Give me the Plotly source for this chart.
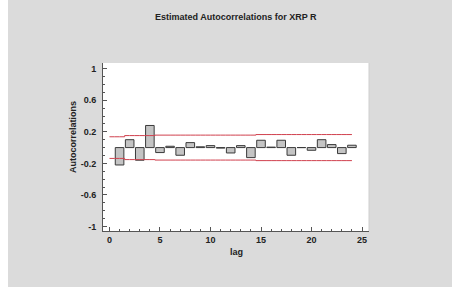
import plotly.graph_objects as go

lags = list(range(1, 25))
autocorr = [-0.22, 0.10, -0.16, 0.28, -0.063, 0.017, -0.097, 0.063, 0.01, 0.025,
            -0.006, -0.068, 0.025, -0.127, 0.093, 0.006, 0.093, -0.097, 0.0, -0.034,
            0.10, 0.038, -0.076, 0.03]
limits = [0.137, 0.152, 0.152, 0.152, 0.158, 0.158, 0.158, 0.158, 0.158, 0.158,
          0.158, 0.158, 0.158, 0.158, 0.165, 0.165, 0.165, 0.165, 0.165, 0.165,
          0.165, 0.165, 0.165, 0.165]
y_ticks = [1, 0.6, 0.2, -0.2, -0.6, -1]
y_ticktext = ["1", "0.6", "0.2", "-0.2", "-0.6", "-1"]
x_ticks = [0, 5, 10, 15, 20, 25]

W, H = 452, 287
L, R, T, B = 103, 83, 63, 56
pw, ph = W - L - R, H - T - B

def px_to_paper_x(px):
    return (px - L) / pw

def px_to_paper_y(py):
    return (H - B - py) / ph

font = "Liberation Sans, Arial, sans-serif"
bg = "#DBDBDB"

fig = go.Figure()
fig.add_trace(go.Bar(
    x=lags, y=autocorr, width=0.85,
    marker=dict(color="#C4C4C4", line=dict(color="#3A3A3A", width=1)),
    showlegend=False,
))
lim_x = [0] + lags
upper = [limits[0]] + limits
lower = [-v for v in upper]
for ys in (upper, lower):
    fig.add_trace(go.Scatter(
        x=lim_x, y=ys, mode="lines", line=dict(color="#D0414E", width=1, shape="hvh"),
        showlegend=False, hoverinfo="skip",
    ))

axis_common = dict(
    showgrid=False, zeroline=False, showline=True, linecolor="#555555", linewidth=1,
    ticks="inside", ticklen=4, tickcolor="#555555",
    tickfont=dict(family=font, size=9, color="#222222", weight="bold"),
)
fig.update_xaxes(
    range=[-0.64, 25.69], tickmode="array", tickvals=x_ticks,
    minor=dict(dtick=1, tick0=0, ticks="inside", ticklen=2, tickcolor="#555555"),
    **axis_common,
)
fig.update_yaxes(
    range=[-1.056, 1.071], tickmode="array", tickvals=y_ticks, ticktext=y_ticktext,
    minor=dict(dtick=0.1, tick0=0, ticks="inside", ticklen=2, tickcolor="#555555"),
    ticklabelstandoff=4,
    **axis_common,
)

fig.update_layout(
    width=W, height=H,
    margin=dict(l=L, r=R, t=T, b=B, pad=0),
    paper_bgcolor=bg, plot_bgcolor="white",
    bargap=0,
    shapes=[
        dict(type="rect", xref="paper", yref="paper",
             x0=px_to_paper_x(-2), x1=px_to_paper_x(8),
             y0=px_to_paper_y(H + 2), y1=px_to_paper_y(-2),
             fillcolor="white", line=dict(width=0), layer="below"),
        dict(type="line", xref="paper", yref="paper", x0=1, x1=1, y0=0, y1=1,
             line=dict(color="#CFCFCF", width=1)),
    ],
    annotations=[
        dict(text="<b>Estimated Autocorrelations for XRP R</b>", xref="paper", yref="paper",
             x=px_to_paper_x(236), y=px_to_paper_y(17), showarrow=False,
             xanchor="center", yanchor="middle",
             font=dict(family=font, size=9, color="#222222")),
        dict(text="<b>lag</b>", xref="paper", yref="paper",
             x=px_to_paper_x(236), y=px_to_paper_y(252), showarrow=False,
             xanchor="center", yanchor="middle",
             font=dict(family=font, size=9, color="#222222")),
        dict(text="<b>Autocorrelations</b>", xref="paper", yref="paper",
             x=px_to_paper_x(73), y=px_to_paper_y(137), showarrow=False,
             xanchor="center", yanchor="middle", textangle=-90,
             font=dict(family=font, size=9, color="#222222")),
    ],
)

fig.write_html(
    "out.html",
    config={"displayModeBar": False, "staticPlot": True},
    post_script="document.body.style.margin='0px';document.body.style.overflow='hidden';",
)
